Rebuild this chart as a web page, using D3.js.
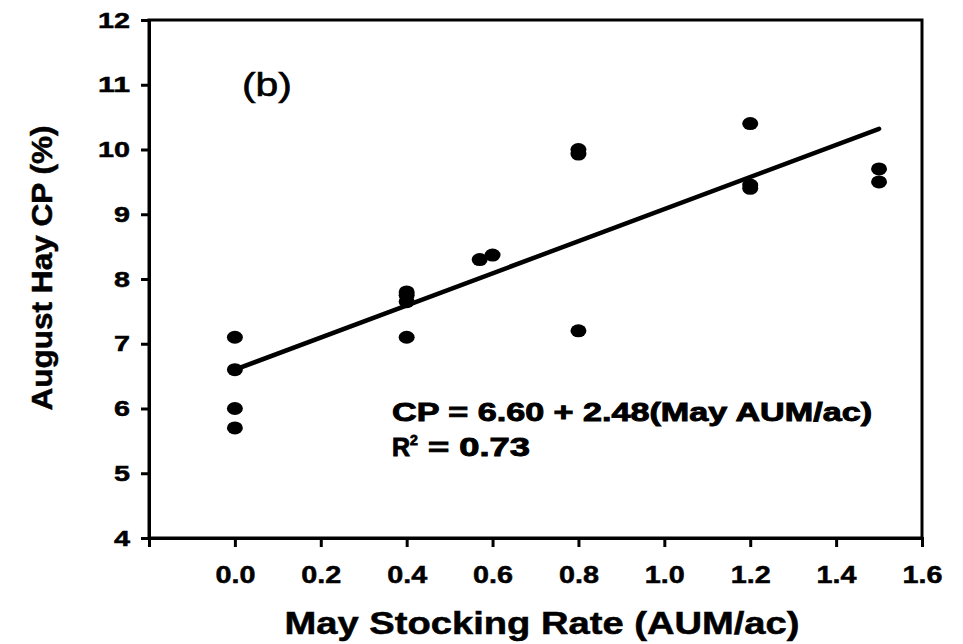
<!DOCTYPE html>
<html><head><meta charset="utf-8">
<script src="https://cdn.jsdelivr.net/npm/d3@7"></script>
<style>body{margin:0;background:#fff}svg{display:block}text{font-family:"Liberation Sans",Arial,sans-serif;fill:#000}</style>
</head><body>
<script>
const xTicks = [0.0, 0.2, 0.4, 0.6, 0.8, 1.0, 1.2, 1.4, 1.6];
const yTicks = [4, 5, 6, 7, 8, 9, 10, 11, 12];
const stockingRate = [0, 0, 0, 0, 0.4, 0.4, 0.4, 0.4, 0.57, 0.6, 0.8, 0.8, 0.8, 1.2, 1.2, 1.2, 1.5, 1.5];
const hayCP = [7.1, 6.6, 6.0, 5.7, 7.8, 7.75, 7.65, 7.1, 8.3, 8.37, 10.0, 9.93, 7.2, 10.4, 9.45, 9.4, 9.7, 9.5];
const intercept = 6.60, slope = 2.48;
const fitRange = [0, 1.5];

const W = 963, H = 644;
const svg = d3.select("body").append("svg").attr("width", W).attr("height", H);
const x = d3.scaleLinear().domain([-0.2, 1.6]).range([149, 922]);
const y = d3.scaleLinear().domain([4, 12]).range([538, 20]);

// frame
svg.append("rect").attr("x", 149).attr("y", 20).attr("width", 922 - 149).attr("height", 538 - 20)
  .attr("fill", "none").attr("stroke", "#000").attr("stroke-width", 3);

const yAxis = svg.append("g").attr("transform", "translate(149,0)")
  .call(d3.axisLeft(y).tickValues(yTicks).tickFormat(d3.format("d")).tickSize(8).tickPadding(11));
const xAxis = svg.append("g").attr("transform", "translate(0,538)")
  .call(d3.axisBottom(x).tickValues(xTicks).tickFormat(d3.format(".1f")).tickSize(9).tickPadding(19));
[yAxis, xAxis].forEach(g => {
  g.select(".domain").attr("stroke-width", 3);
  g.selectAll(".tick line").attr("stroke-width", 3);
  g.selectAll("text").style("font-family", '"Liberation Sans",Arial,sans-serif').attr("font-weight", "bold")
    .attr("lengthAdjust", "spacingAndGlyphs").attr("stroke", "#000").attr("stroke-width", 0.5);
});
yAxis.selectAll("text").style("font-size", "22px").attr("textLength", d => String(d).length * 16);
xAxis.selectAll("text").style("font-size", "24px").attr("textLength", 40);

// regression line
svg.append("line")
  .attr("x1", x(fitRange[0])).attr("y1", y(intercept + slope * fitRange[0]))
  .attr("x2", x(fitRange[1])).attr("y2", y(intercept + slope * fitRange[1]))
  .attr("stroke", "#000").attr("stroke-width", 4.5).attr("stroke-linecap", "round");

// points
svg.append("g").selectAll("ellipse").data(stockingRate.map((d, i) => [d, hayCP[i]]))
  .join("ellipse")
  .attr("cx", d => x(d[0])).attr("cy", d => y(d[1]))
  .attr("rx", 8).attr("ry", 6.5).attr("fill", "#000");

// annotations
svg.append("text").attr("x", 242).attr("y", 96).attr("font-size", 33)
  .attr("stroke", "#000").attr("stroke-width", 0.6)
  .attr("textLength", 50).attr("lengthAdjust", "spacingAndGlyphs").text("(b)");
svg.append("text").attr("x", 392).attr("y", 421).attr("font-size", 25).attr("font-weight", "bold")
  .attr("stroke", "#000").attr("stroke-width", 0.9)
  .attr("textLength", 480).attr("lengthAdjust", "spacingAndGlyphs").text("CP = 6.60 + 2.48(May AUM/ac)");
const r = svg.append("text").attr("x", 392).attr("y", 456).attr("font-size", 25).attr("font-weight", "bold")
  .attr("stroke", "#000").attr("stroke-width", 0.9);
r.append("tspan").text("R");
r.append("tspan").attr("font-size", 14).attr("dy", -11).text("2");
r.append("tspan").attr("dy", 11).attr("textLength", 112).attr("lengthAdjust", "spacingAndGlyphs").text(" = 0.73");

// axis titles
svg.append("text").attr("x", 542).attr("y", 634).attr("text-anchor", "middle").attr("font-size", 31)
  .attr("font-weight", "bold").attr("stroke", "#000").attr("stroke-width", 0.5)
  .attr("textLength", 515).attr("lengthAdjust", "spacingAndGlyphs")
  .text("May Stocking Rate (AUM/ac)");
svg.append("text").attr("transform", "translate(52,268) rotate(-90)").attr("text-anchor", "middle")
  .attr("font-size", 29).attr("font-weight", "bold").attr("stroke", "#000").attr("stroke-width", 0.5)
  .attr("textLength", 285).attr("lengthAdjust", "spacingAndGlyphs")
  .text("August Hay CP (%)");
</script>
</body></html>
